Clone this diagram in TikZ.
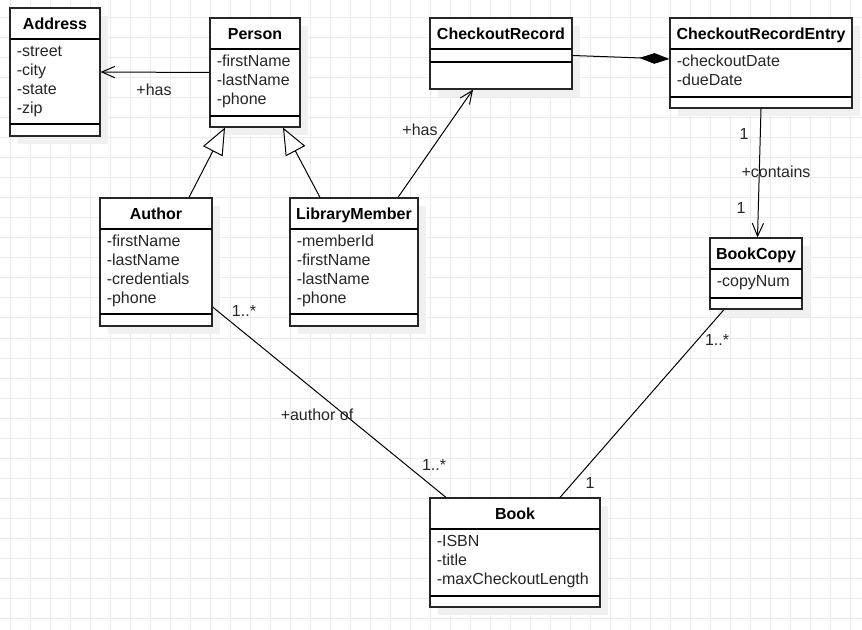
\documentclass[tikz,border=0pt]{standalone}
\usepackage{fontspec}
\setmainfont{Liberation Sans}
\usetikzlibrary{arrows.meta,fit,calc}

\definecolor{gridc}{HTML}{EBEBEB}
\definecolor{shadowc}{HTML}{F0F0F0}

\tikzset{
  gridline/.style={draw=gridc, line width=0.75pt},
  classbox/.style={draw=black!85, line width=0.9pt, fill=white, inner sep=0pt, rectangle},
  sepline/.style={draw=black, line width=0.9pt},
  classtitle/.style={font=\fontsize{12pt}{14pt}\selectfont\bfseries, inner sep=0pt, anchor=base},
  attrtext/.style={font=\fontsize{12pt}{14pt}\selectfont, text=black!85, inner sep=0pt, anchor=base west},
  connector/.style={draw=black, line width=0.75pt},
  openarrow/.style={connector, -{Straight Barb[length=9.75pt,width=8.5pt]}},
  generalize/.style={connector, -{Triangle[length=20pt,width=16.5pt,fill=white]}},
  compose/.style={connector, -{Diamond[length=22.5pt,width=8pt]}},
  assoclabel/.style={font=\fontsize{12pt}{14pt}\selectfont, text=black!85, inner sep=0pt},
}

% class box: name, left, top, right, bottom, header line, attribute line, title
\newcommand{\umlclass}[8]{%
  \fill[shadowc] ({#2+8},{#3+8}) rectangle ({#4+8},{#5+8});
  \node[classbox, fit={(#2,#3) (#4,#5)}] (#1) {};
  \draw[sepline] (#2,#6) -- (#4,#6);
  \draw[sepline] (#2,#7) -- (#4,#7);
  \node[classtitle] (#1-title) at ({(#2+#4)/2},{(#3+#6)/2+5.75}) {#8};
}
% attribute lines: name, left, header line, list
\newcommand{\umlattrs}[4]{%
  \foreach \t [count=\i] in {#4}
    \node[attrtext] (#1-a\i) at ({#2+6.5},{#3+17.5+19*(\i-1)}) {\t};
}

\begin{document}
\begin{tikzpicture}[x=0.75pt, y=-0.75pt]
  % canvas and grid
  \fill[white] (0,0) rectangle (862,630);
  \useasboundingbox (0,0) rectangle (862,630);
  \foreach \gx in {10,30,...,850} \draw[gridline] (\gx,0) -- (\gx,630);
  \foreach \gy in {18,38,...,618} \draw[gridline] (0,\gy) -- (862,\gy);

  % classes
  \umlclass{address}{10}{8}{100}{136}{39}{124}{Address}
  \umlattrs{address}{10}{39}{-street,-city,-state,-zip}

  \umlclass{person}{210}{18}{300}{127}{49}{116}{Person}
  \umlattrs{person}{210}{49}{-firstName,-lastName,-phone}

  \umlclass{checkoutrec}{430}{18}{572}{89}{49}{62}{CheckoutRecord}

  \umlclass{entry}{670}{18}{852}{108}{49}{97}{CheckoutRecordEntry}
  \umlattrs{entry}{670}{49}{-checkoutDate,-dueDate}

  \umlclass{author}{100}{198}{212}{326}{229}{314}{Author}
  \umlattrs{author}{100}{229}{-firstName,-lastName,-credentials,-phone}

  \umlclass{member}{290}{198}{418}{326}{229}{314}{LibraryMember}
  \umlattrs{member}{290}{229}{-memberId,-firstName,-lastName,-phone}

  \umlclass{bookcopy}{710}{238}{802}{309}{269}{298}{BookCopy}
  \umlattrs{bookcopy}{710}{269}{-copyNum}

  \umlclass{book}{430}{498}{600}{607}{529}{596}{Book}
  \umlattrs{book}{430}{529}{-ISBN,-title,-maxCheckoutLength}

  % relationships
  \draw[openarrow] (person.west) -- (address.east);
  \node[assoclabel] (has1) at (154,90) {+has};

  \draw[generalize] ($(author.north)+(33,0)$) -- ($(person.south)+(-30,0)$);
  \draw[generalize] ($(member.north)+(-34,0)$) -- ($(person.south)+(28,0)$);

  \draw[openarrow] ($(member.north)+(44,0)$) -- ($(checkoutrec.south)+(-28,0)$);
  \node[assoclabel] (has2) at (420,130) {+has};

  \draw[compose] ($(checkoutrec.east)+(0,2)$) -- ($(entry.west)+(0,-4)$);

  \draw[openarrow] (entry.south) -- ($(bookcopy.north)+(1.5,0)$);
  \node[assoclabel] (m1) at (744,134) {1};
  \node[assoclabel] (contains) at (776,172) {+contains};
  \node[assoclabel] (m2) at (741,208) {1};

  \draw[connector] ($(author.east)+(0,45)$) -- ($(book.north)+(-69,0)$);
  \node[assoclabel] (m3) at (244,311) {1..*};
  \node[assoclabel] (authorof) at (317,415) {+author of};
  \node[assoclabel] (m4) at (434,465) {1..*};

  \draw[connector] ($(bookcopy.south)+(-32,0)$) -- ($(book.north)+(45,0)$);
  \node[assoclabel] (m5) at (717,340) {1..*};
  \node[assoclabel] (m6) at (590,483) {1};
\end{tikzpicture}
\end{document}
